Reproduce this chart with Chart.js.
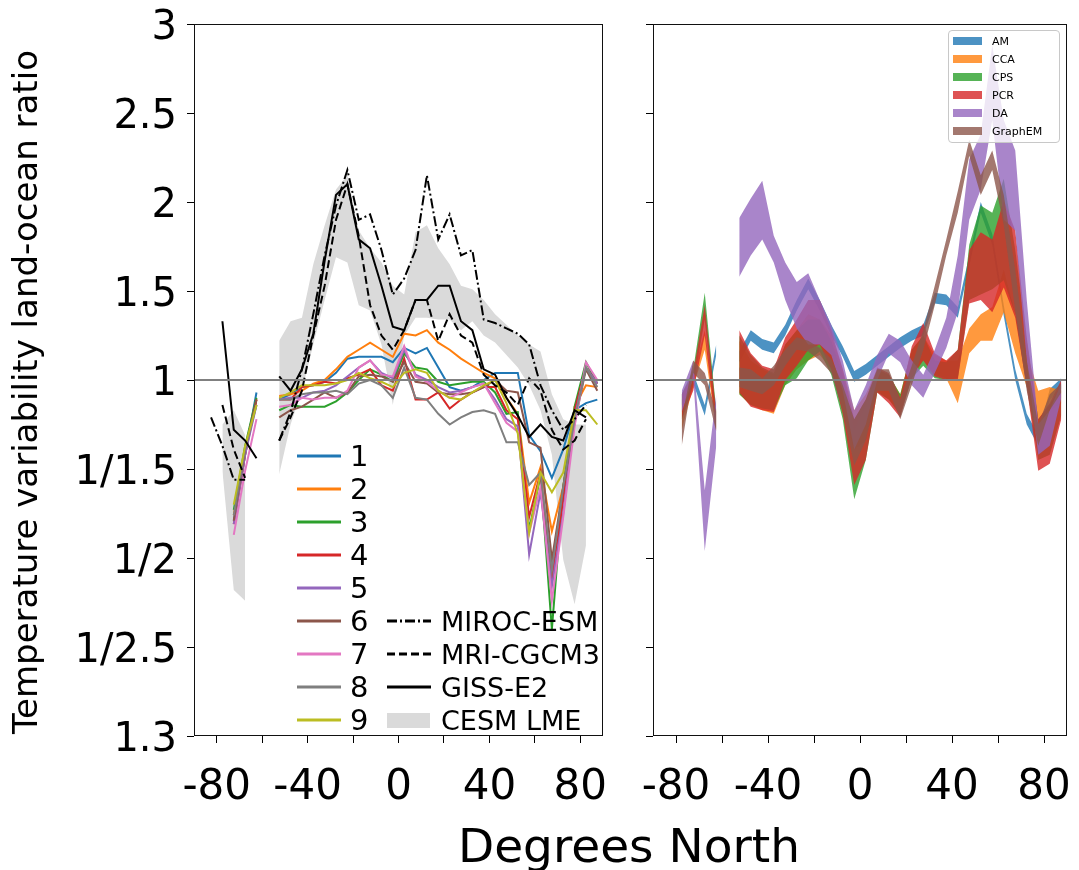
<!DOCTYPE html>
<html lang="en">
<head>
    <meta charset="UTF-8">
    <title>Land-ocean variability ratio</title>
    <script src="https://cdn.jsdelivr.net/npm/chart.js"></script>
    <style>
        body { margin: 0; background: #fff; font-family: "DejaVu Sans", sans-serif; }
        #wrap { position: relative; width: 1079px; height: 870px; overflow: hidden; }
        canvas { position: absolute; top: 0; }
        .txt { position: absolute; white-space: nowrap; color: #000; }
        #ylabel { left: -375px; top: 375px; width: 800px; height: 34px; line-height: 34px;
                  font-size: 34px; text-align: center; transform: rotate(-90deg); }
        #xlabel { left: 329px; top: 822px; width: 600px; line-height: 47px; font-size: 47px; text-align: center; }
        #legendRight { position: absolute; left: 948px; top: 30px; width: 112px; height: 113px;
                       border: 1px solid #c8c8c8; border-radius: 4px; background: rgba(255,255,255,0.8); box-sizing: border-box; }
    </style>
</head>
<body>
<div id="wrap">
    <canvas id="leftChart" width="625" height="870" style="left:0"></canvas>
    <canvas id="rightChart" width="454" height="870" style="left:625px"></canvas>
    <div id="ylabel" class="txt">Temperature variability land-ocean ratio</div>
    <div id="xlabel" class="txt">Degrees North</div>
    <div id="legendLeft"></div>
    <div id="legendRight"></div>
</div>
<script>
    // latitude bands (degrees north)
    const lats = [-82.5, -77.5, -72.5, -67.5, -62.5, -57.5, -52.5, -47.5, -42.5, -37.5, -32.5, -27.5, -22.5, -17.5,
        -12.5, -7.5, -2.5, 2.5, 7.5, 12.5, 17.5, 22.5, 27.5, 32.5, 37.5, 42.5, 47.5, 52.5, 57.5, 62.5, 67.5, 72.5,
        77.5, 82.5, 87.5];

    // values are on the symmetric ratio axis: r >= 1 -> r - 1, r < 1 -> 1 - 1/r
    const yTickVals = [2, 1.5, 1, 0.5, 0, -0.5, -1, -1.5, -2];
    const yTickLabels = ['3', '2.5', '2', '1.5', '1', '1/1.5', '1/2', '1/2.5', '1.3'];
    const xTickVals = [-80, -60, -40, -20, 0, 20, 40, 60, 80];
    const xTickLabels = ['-80', '', '-40', '', '0', '', '40', '', '80'];
    const xMin = -90, xMax = 90;
    const refValue = 0; // ratio of 1

    // left panel: reconstructions 1-9
    const reconNames = ['1', '2', '3', '4', '5', '6', '7', '8', '9'];
    const reconColors = ['#1f77b4', '#ff7f0e', '#2ca02c', '#d62728', '#9467bd', '#8c564b', '#e377c2', '#7f7f7f', '#bcbd22'];
    const recon1 = [null, null, -0.79, -0.42, -0.07, null, -0.11, -0.08, -0.04, -0.03, -0.01, 0.04, 0.12, 0.13, 0.13, 0.13, 0.10, 0.18, 0.15, 0.18, 0.07, -0.04, -0.06, -0.04, 0.00, 0.04, 0.04, 0.04, -0.31, -0.40, -0.55, -0.39, -0.17, -0.13, -0.11];
    const recon2 = [null, null, -0.76, -0.39, -0.11, null, -0.09, -0.08, -0.06, -0.02, 0.00, 0.06, 0.13, 0.17, 0.21, 0.17, 0.13, 0.26, 0.25, 0.28, 0.21, 0.17, 0.12, 0.08, 0.04, 0.01, -0.10, -0.19, -0.69, -0.49, -0.85, -0.60, -0.15, -0.03, -0.04];
    const recon3 = [null, null, -0.73, -0.37, -0.10, null, -0.17, -0.14, -0.15, -0.15, -0.15, -0.12, -0.07, 0.00, 0.06, 0.03, -0.01, 0.15, 0.07, 0.06, -0.01, -0.03, -0.02, -0.01, -0.01, -0.07, -0.19, -0.18, -0.84, -0.54, -1.40, -0.60, -0.15, 0.10, -0.02];
    const recon4 = [null, null, -0.81, -0.42, -0.11, null, -0.11, -0.11, -0.04, -0.03, -0.01, -0.02, 0.01, 0.03, 0.06, -0.03, -0.06, 0.12, -0.11, -0.11, -0.07, -0.16, -0.11, -0.07, -0.04, -0.04, -0.17, -0.22, -0.77, -0.52, -1.12, -0.67, -0.17, 0.07, -0.02];
    const recon5 = [null, null, -0.81, -0.42, -0.14, null, -0.11, -0.10, -0.10, -0.07, -0.06, -0.03, 0.02, 0.07, 0.11, 0.04, 0.01, 0.17, 0.03, 0.00, -0.04, -0.07, -0.06, -0.04, -0.02, -0.11, -0.22, -0.26, -0.98, -0.63, -1.16, -0.75, -0.21, 0.07, -0.02];
    const recon6 = [null, null, -0.79, -0.39, -0.11, null, -0.21, -0.17, -0.15, -0.11, -0.07, -0.10, -0.07, 0.02, 0.03, 0.02, -0.01, 0.10, -0.01, -0.02, -0.07, -0.08, -0.08, -0.07, -0.04, 0.00, -0.06, -0.07, -0.35, -0.38, -1.01, -0.60, -0.24, 0.06, -0.06];
    const recon7 = [null, null, -0.87, -0.51, -0.22, null, -0.15, -0.14, -0.10, -0.11, -0.10, -0.10, -0.06, 0.07, 0.11, 0.03, 0.02, 0.19, 0.02, -0.01, -0.06, -0.10, -0.07, -0.04, -0.02, -0.13, -0.24, -0.29, -0.86, -0.60, -1.24, -0.77, -0.26, 0.10, 0.00];
    const recon8 = [null, null, -0.76, -0.39, -0.14, null, -0.11, -0.11, -0.08, -0.07, -0.07, -0.06, -0.08, -0.02, 0.00, -0.03, -0.10, 0.07, -0.10, -0.11, -0.19, -0.25, -0.21, -0.18, -0.17, -0.19, -0.35, -0.35, -0.59, -0.52, -1.07, -0.60, -0.22, 0.07, -0.04];
    const recon9 = [null, null, -0.70, -0.37, -0.14, null, -0.10, -0.07, -0.03, -0.03, -0.03, -0.02, 0.00, 0.04, 0.01, -0.01, -0.04, 0.04, 0.06, 0.04, -0.06, -0.10, -0.11, -0.07, -0.03, 0.00, -0.13, -0.30, -0.86, -0.52, -0.63, -0.52, -0.17, -0.17, -0.25];
    const recons = [recon1, recon2, recon3, recon4, recon5, recon6, recon7, recon8, recon9];

    // left panel: climate models
    const modelNames = ['MIROC-ESM', 'MRI-CGCM3', 'GISS-E2', 'CESM LME'];
    const miroc = [-0.21, -0.37, -0.56, -0.56, null, null, -0.34, -0.18, 0.06, 0.37, 0.70, 0.98, 1.18, 0.90, 0.93, 0.73, 0.48, 0.57, 0.73, 1.15, 0.79, 0.93, 0.70, 0.73, 0.34, 0.32, 0.29, 0.26, 0.20, -0.03, -0.17, -0.28, -0.22, -0.14, null];
    const mri = [null, -0.14, -0.39, -0.55, null, null, -0.34, -0.21, -0.06, 0.25, 0.53, 0.90, 1.10, 0.81, 0.42, 0.25, 0.17, 0.28, 0.45, 0.45, 0.22, 0.37, 0.25, 0.21, 0.03, -0.03, -0.07, -0.14, 0.01, -0.06, -0.28, -0.39, -0.34, -0.22, null];
    const giss = [null, 0.33, -0.28, -0.34, -0.44, null, 0.02, -0.06, 0.06, 0.26, 0.67, 1.04, 1.10, 0.79, 0.74, 0.53, 0.30, 0.28, 0.45, 0.45, 0.53, 0.53, 0.33, 0.28, 0.06, 0.03, -0.10, -0.20, -0.32, -0.25, -0.32, -0.34, -0.17, -0.21, null];
    const cesmHi = [null, -0.25, -0.17, -0.31, null, null, 0.22, 0.33, 0.35, 0.65, 0.87, 1.07, 1.15, 0.84, 0.74, 0.66, 0.53, 0.48, 0.83, 0.87, 0.74, 0.65, 0.53, 0.51, 0.45, 0.37, 0.31, 0.25, 0.20, 0.16, -0.08, -0.22, -0.25, -0.25, null];
    const cesmLo = [null, -0.51, -1.18, -1.24, null, null, -0.53, -0.25, -0.06, 0.20, 0.45, 0.69, 0.66, 0.42, 0.39, 0.20, -0.14, 0.25, 0.35, 0.35, 0.34, 0.34, 0.28, 0.33, 0.25, 0.21, 0.14, 0.07, -0.03, -0.17, -0.42, -1.01, -1.26, -0.93, null];

    // right panel: reconstruction methods (upper / lower edge of each band)
    const methodNames = ['AM', 'CCA', 'CPS', 'PCR', 'DA', 'GraphEM'];
    const methodColors = ['31,119,180', '255,127,14', '44,160,44', '214,39,40', '148,103,189', '140,86,75'];
    const amHi = [null, -0.08, 0.04, -0.14, 0.20, null, 0.16, 0.28, 0.23, 0.21, 0.31, 0.45, 0.57, 0.45, 0.31, 0.19, 0.05, 0.09, 0.14, 0.19, 0.24, 0.28, 0.31, 0.49, 0.48, 0.41, 0.70, 1.00, 0.82, 0.42, 0.06, -0.19, -0.31, -0.05, 0.01];
    const amLo = [null, -0.14, -0.02, -0.20, 0.14, null, 0.10, 0.22, 0.17, 0.15, 0.25, 0.39, 0.51, 0.39, 0.25, 0.13, -0.01, 0.03, 0.08, 0.13, 0.18, 0.22, 0.25, 0.43, 0.42, 0.35, 0.64, 0.94, 0.76, 0.36, 0.00, -0.25, -0.37, -0.11, -0.05];
    const ccaHi = [null, -0.11, 0.03, 0.28, -0.17, null, 0.22, 0.11, 0.06, 0.03, 0.20, 0.28, 0.37, 0.34, 0.25, 0.06, -0.17, -0.08, 0.06, 0.03, -0.08, 0.17, 0.25, 0.14, 0.11, 0.11, 0.29, 0.37, 0.41, 0.62, 0.37, 0.15, -0.06, -0.04, -0.06];
    const ccaLo = [null, -0.28, -0.04, 0.17, -0.28, null, -0.08, -0.14, -0.17, -0.19, -0.03, 0.06, 0.11, 0.14, 0.06, -0.17, -0.39, -0.34, -0.06, -0.11, -0.18, 0.01, 0.11, 0.03, 0.01, -0.13, 0.15, 0.22, 0.22, 0.38, 0.15, -0.04, -0.22, -0.17, -0.13];
    const cpsHi = [null, -0.08, 0.06, 0.49, -0.17, null, 0.25, 0.14, 0.07, 0.04, 0.20, 0.28, 0.34, 0.34, 0.22, 0.03, -0.28, -0.14, 0.06, 0.03, -0.08, 0.17, 0.25, 0.11, 0.10, 0.17, 0.76, 0.98, 0.94, 1.13, 0.73, 0.22, -0.22, -0.14, -0.03];
    const cpsLo = [null, -0.22, -0.03, 0.34, -0.28, null, -0.08, -0.14, -0.16, -0.17, -0.03, 0.01, 0.11, 0.16, 0.03, -0.22, -0.67, -0.45, -0.07, -0.11, -0.20, 0.01, 0.08, 0.01, 0.00, 0.01, 0.45, 0.48, 0.51, 0.56, 0.37, -0.03, -0.45, -0.42, -0.20];
    const pcrHi = [null, -0.08, 0.04, 0.42, -0.18, null, 0.28, 0.15, 0.08, 0.06, 0.24, 0.34, 0.45, 0.45, 0.28, 0.06, -0.22, -0.11, 0.07, 0.04, -0.10, 0.19, 0.32, 0.15, 0.11, 0.17, 0.73, 0.83, 0.79, 1.01, 0.84, 0.24, -0.22, -0.13, 0.00];
    const pcrLo = [null, -0.22, -0.06, 0.25, -0.29, null, -0.07, -0.15, -0.17, -0.18, 0.00, 0.08, 0.17, 0.20, 0.06, -0.19, -0.59, -0.45, -0.07, -0.13, -0.21, 0.02, 0.11, 0.02, 0.00, 0.00, 0.43, 0.45, 0.38, 0.52, 0.35, -0.04, -0.51, -0.47, -0.22];
    const daHi = [null, -0.06, 0.11, -0.62, -0.08, null, 0.91, 1.02, 1.12, 0.81, 0.66, 0.55, 0.60, 0.45, 0.31, 0.11, -0.17, -0.03, 0.14, 0.26, 0.22, 0.11, 0.03, 0.17, 0.35, 0.70, 1.24, 1.38, 1.88, 1.46, 1.29, 0.45, -0.25, -0.17, -0.02];
    const daLo = [null, -0.18, 0.01, -0.96, -0.37, null, 0.58, 0.70, 0.79, 0.66, 0.45, 0.29, 0.20, 0.20, 0.14, -0.06, -0.39, -0.25, 0.00, 0.15, 0.10, -0.03, -0.10, 0.04, 0.18, 0.38, 0.90, 1.07, 1.46, 0.90, 0.84, 0.11, -0.42, -0.37, -0.10];
    const gemHi = [null, -0.22, 0.11, 0.04, -0.18, null, 0.07, 0.06, 0.01, 0.08, 0.17, 0.24, 0.22, 0.18, 0.12, -0.03, -0.22, -0.11, 0.06, 0.06, -0.11, 0.08, 0.28, 0.53, 0.79, 1.06, 1.35, 1.15, 1.29, 1.04, 0.62, 0.11, -0.25, -0.08, -0.02];
    const gemLo = [null, -0.37, 0.04, -0.03, -0.29, null, -0.04, -0.06, -0.08, -0.03, 0.08, 0.17, 0.16, 0.11, 0.04, -0.17, -0.48, -0.34, -0.06, -0.06, -0.22, -0.03, 0.17, 0.42, 0.70, 0.94, 1.26, 1.04, 1.18, 0.87, 0.39, -0.06, -0.37, -0.17, -0.07];
    const methodBands = [[amHi, amLo], [ccaHi, ccaLo], [cpsHi, cpsLo], [pcrHi, pcrLo], [daHi, daLo], [gemHi, gemLo]];

    const FONT = "'DejaVu Sans', sans-serif";
    const NONE = 'rgba(0,0,0,0)';
    const modelDash = [[10, 3, 2, 3], [8, 4], []];
    const cesmColor = '#dadada';

    function pts(vals) {
        return lats.map((x, i) => ({ x: x, y: vals[i] }));
    }

    function refLine() {
        return { data: [{ x: xMin, y: refValue }, { x: xMax, y: refValue }], borderColor: '#808080', borderWidth: 2, fill: false };
    }

    // box round the plot area
    const framePlugin = {
        id: 'frame',
        afterDatasetsDraw(chart) {
            const { ctx, chartArea: a } = chart;
            ctx.save();
            ctx.strokeStyle = '#111';
            ctx.lineWidth = 1;
            ctx.strokeRect(a.left + 0.5, a.top + 0.5, a.right - a.left - 1, a.bottom - a.top - 1);
            ctx.restore();
        }
    };

    function makeOptions(showYLabels, yWidth, padRight) {
        return {
            responsive: false,
            animation: false,
            layout: { padding: { top: 24, right: padRight, left: 0, bottom: 0 } },
            plugins: { legend: { display: false }, tooltip: { enabled: false } },
            elements: { point: { radius: 0 }, line: { tension: 0 } },
            scales: {
                x: {
                    type: 'linear', min: xMin, max: xMax,
                    afterBuildTicks: s => { s.ticks = xTickVals.map(v => ({ value: v })); },
                    afterFit: s => { s.height = 134; s.paddingLeft = 0; s.paddingRight = 0; },
                    grid: { drawOnChartArea: false, tickLength: 7, tickColor: '#000', tickWidth: 1 },
                    border: { display: false },
                    ticks: {
                        font: { family: FONT, size: 42 }, color: '#000', padding: 20,
                        maxRotation: 0, autoSkip: false,
                        callback: v => xTickLabels[xTickVals.indexOf(v)]
                    }
                },
                y: {
                    type: 'linear', min: -2, max: 2,
                    afterBuildTicks: s => { s.ticks = yTickVals.map(v => ({ value: v })); },
                    afterFit: s => { s.width = yWidth; s.paddingTop = 0; s.paddingBottom = 0; },
                    grid: { drawOnChartArea: false, tickLength: 7, tickColor: '#000', tickWidth: 1 },
                    border: { display: false },
                    ticks: {
                        font: { family: FONT, size: 40 }, color: '#000', padding: 10, labelOffset: 5,
                        autoSkip: false,
                        callback: v => showYLabels ? yTickLabels[yTickVals.indexOf(v)] : ''
                    }
                }
            }
        };
    }

    // ---- left panel (bottom to top)
    const leftSets = [];
    leftSets.push({ data: pts(cesmHi), fill: '+1', backgroundColor: cesmColor, borderColor: NONE, borderWidth: 0 });
    leftSets.push({ data: pts(cesmLo), fill: false, borderColor: NONE, borderWidth: 0 });
    recons.forEach((r, i) => {
        leftSets.push({ data: pts(r), borderColor: reconColors[i], borderWidth: 2, fill: false });
    });
    [miroc, mri, giss].forEach((m, i) => {
        leftSets.push({ data: pts(m), borderColor: '#000', borderWidth: 2, borderDash: modelDash[i], fill: false });
    });
    leftSets.push(refLine());
    leftSets.forEach((d, i, arr) => { d.order = arr.length - i; });

    new Chart(document.getElementById('leftChart'), {
        type: 'line',
        data: { datasets: leftSets },
        options: makeOptions(true, 194, 22),
        plugins: [framePlugin]
    });

    // ---- right panel (bottom to top)
    const rightSets = [];
    methodBands.forEach((b, i) => {
        rightSets.push({ data: pts(b[0]), fill: '+1', backgroundColor: 'rgba(' + methodColors[i] + ',0.8)', borderColor: NONE, borderWidth: 0 });
        rightSets.push({ data: pts(b[1]), fill: false, borderColor: NONE, borderWidth: 0 });
    });
    rightSets.push(refLine());
    rightSets.forEach((d, i, arr) => { d.order = arr.length - i; });

    new Chart(document.getElementById('rightChart'), {
        type: 'line',
        data: { datasets: rightSets },
        options: makeOptions(false, 28, 12),
        plugins: [framePlugin]
    });

    // ---- legends
    const legLeft = document.getElementById('legendLeft');
    function addLine(parent, left, yc, color, dash) {
        const svg = '<svg width="44" height="10" style="position:absolute;left:' + left + 'px;top:' + (yc - 5) + 'px">' +
            '<line x1="0" y1="5" x2="44" y2="5" stroke="' + color + '" stroke-width="3"' +
            (dash.length ? ' stroke-dasharray="' + dash.join(' ') + '"' : '') + '/></svg>';
        parent.insertAdjacentHTML('beforeend', svg);
    }
    function addText(parent, left, yc, size, text) {
        const d = document.createElement('div');
        d.className = 'txt';
        d.style.left = left + 'px';
        d.style.top = (yc - size / 2) + 'px';
        d.style.fontSize = size + 'px';
        d.style.lineHeight = size + 'px';
        d.textContent = text;
        parent.appendChild(d);
    }
    reconNames.forEach((n, i) => {
        const yc = 456 + i * 33;
        addLine(legLeft, 297, yc, reconColors[i], []);
        addText(legLeft, 350, yc, 29, n);
    });
    modelNames.forEach((n, i) => {
        const yc = 621 + i * 33;
        if (i < 3) {
            addLine(legLeft, 387, yc, '#000', modelDash[i]);
        } else {
            legLeft.insertAdjacentHTML('beforeend', '<div style="position:absolute;left:387px;top:' + (yc - 7.5) +
                'px;width:43px;height:15px;background:' + cesmColor + '"></div>');
        }
        addText(legLeft, 441, yc, 27, n);
    });

    const legRight = document.getElementById('legendRight');
    methodNames.forEach((n, i) => {
        const yc = 10 + i * 18;
        legRight.insertAdjacentHTML('beforeend', '<div style="position:absolute;left:4px;top:' + (yc - 4) +
            'px;width:29px;height:8px;background:rgba(' + methodColors[i] + ',0.8)"></div>');
        addText(legRight, 43, yc, 11, n);
    });
</script>
</body>
</html>
